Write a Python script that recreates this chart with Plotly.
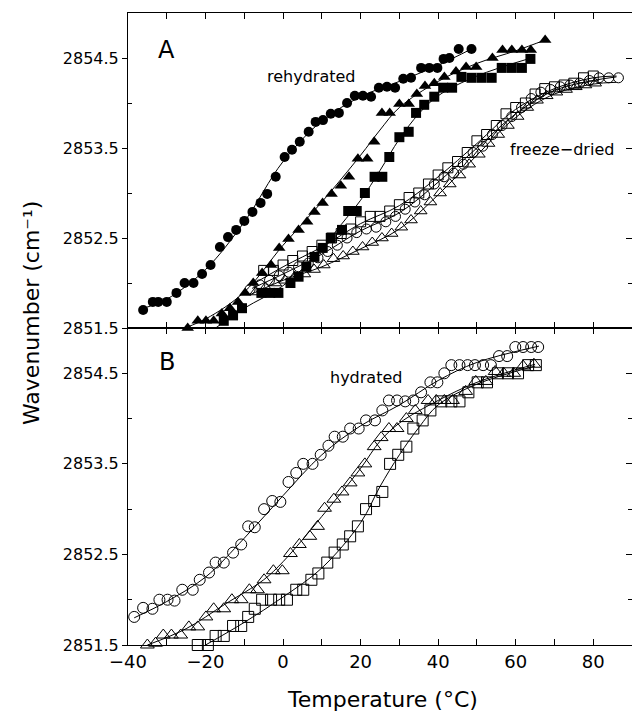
import plotly.graph_objects as go

# ---------------- Panel A (top) ----------------
# rehydrated, filled circles
a_circ_T = [-36.1, -33.6, -32.2, -30.0, -27.5, -25.4, -23.1, -20.9, -18.7, -16.3, -14.2, -12.1,
            -10.0, -7.9, -5.8, -4.1, -1.9, 0.4, 2.3, 4.3, 6.6, 8.4, 10.3, 12.3, 14.4, 16.5,
            18.5, 20.6, 22.7, 24.7, 26.8, 28.9, 31.0, 33.0, 35.6, 37.7, 39.8, 41.4, 42.9, 45.3, 48.6]
a_circ_W = [2851.70, 2851.79, 2851.79, 2851.79, 2851.89, 2852.00, 2852.00, 2852.10, 2852.20, 2852.40,
            2852.51, 2852.59, 2852.69, 2852.79, 2852.89, 2852.99, 2853.18, 2853.40, 2853.48, 2853.57,
            2853.68, 2853.79, 2853.81, 2853.88, 2853.89, 2854.00, 2854.08, 2854.08, 2854.07, 2854.17,
            2854.18, 2854.17, 2854.27, 2854.28, 2854.39, 2854.39, 2854.39, 2854.49, 2854.50, 2854.60, 2854.60]
a_circ_fitT = [-36, -30, -20, -10, 0, 10, 20, 30, 40, 48.6]
a_circ_fitW = [2851.72, 2851.82, 2852.15, 2852.68, 2853.35, 2853.80, 2854.07, 2854.24, 2854.42, 2854.60]

# filled triangles
a_tri_T = [-28.1, -24.6, -22.0, -19.9, -17.9, -15.8, -13.7, -11.6, -9.8, -7.7, -5.4, -3.1, -1.0,
           1.4, 4.0, 6.2, 8.1, 10.2, 12.5, 14.9, 17.0, 19.3, 21.7, 23.5, 25.5, 27.5, 30.0, 32.4,
           34.5, 36.6, 39.0, 41.6, 44.6, 47.2, 49.8, 54.0, 56.6, 59.0, 61.6, 63.9, 67.6]
a_tri_W = [2851.48, 2851.50, 2851.58, 2851.58, 2851.58, 2851.66, 2851.72, 2851.79, 2851.89, 2852.00,
           2852.11, 2852.20, 2852.39, 2852.49, 2852.59, 2852.68, 2852.79, 2852.89, 2852.99, 2853.08,
           2853.18, 2853.38, 2853.38, 2853.57, 2853.89, 2853.89, 2853.99, 2853.99, 2854.10, 2854.19,
           2854.22, 2854.29, 2854.35, 2854.40, 2854.40, 2854.50, 2854.59, 2854.59, 2854.59, 2854.59, 2854.70]
a_tri_fitT = [-28, -20, -10, 0, 10, 20, 25, 30, 40, 50, 60, 67.6]
a_tri_fitW = [2851.46, 2851.60, 2851.90, 2852.42, 2852.90, 2853.42, 2853.70, 2853.95, 2854.24, 2854.44, 2854.58, 2854.70]

# filled squares
a_sq_T = [-17.4, -15.3, -12.9, -10.6, -5.6, -3.3, -1.2, 1.9, 4.0, 6.0, 8.1, 10.2, 12.3, 15.2,
          16.8, 19.0, 21.1, 23.6, 25.6, 27.4, 30.0, 32.4, 34.3, 36.4, 39.0, 41.3, 43.6, 46.0,
          48.6, 51.2, 53.8, 56.4, 59.0, 61.6, 63.8]
a_sq_W = [2851.48, 2851.58, 2851.64, 2851.72, 2851.89, 2851.89, 2851.89, 2852.00, 2852.07, 2852.18,
          2852.29, 2852.39, 2852.50, 2852.59, 2852.80, 2852.80, 2853.00, 2853.18, 2853.18, 2853.40,
          2853.62, 2853.68, 2853.89, 2853.98, 2854.07, 2854.17, 2854.17, 2854.29, 2854.28, 2854.28,
          2854.28, 2854.39, 2854.39, 2854.39, 2854.49]
a_sq_fitT = [-17.4, -10, 0, 10, 15, 20, 25, 30, 35, 40, 50, 64]
a_sq_fitW = [2851.50, 2851.72, 2851.97, 2852.38, 2852.65, 2852.92, 2853.25, 2853.60, 2853.88, 2854.08, 2854.30, 2854.50]

# freeze-dried: open squares
f_sq_T = [-5, -2.5, 0, 2.5, 5, 7.5, 10, 12.5, 15, 17.5, 20, 22.5, 25, 27.5, 30, 32.5, 35, 37.5,
          40, 42.5, 45, 47.5, 50, 52.5, 55, 57.5, 60, 62.5, 65, 67.5, 70, 72.5, 75, 77.5, 80]
f_sq_W = [2852.14, 2852.14, 2852.20, 2852.25, 2852.30, 2852.35, 2852.42, 2852.50, 2852.55, 2852.60,
          2852.68, 2852.74, 2852.74, 2852.80, 2852.87, 2852.95, 2853.00, 2853.10, 2853.20, 2853.28,
          2853.35, 2853.45, 2853.58, 2853.65, 2853.75, 2853.88, 2853.95, 2854.00, 2854.10, 2854.16,
          2854.18, 2854.20, 2854.22, 2854.28, 2854.30]
# freeze-dried: open circles
f_circ_T = [-8.5, -6, -3.5, -1, 1.5, 4, 6.5, 9, 11.5, 14, 16.5, 19, 21.5, 24, 26.5, 29, 31.5, 34,
            36.5, 39, 41.5, 44, 46.5, 49, 51.5, 54, 56.5, 59, 61.5, 64, 66.5, 69, 71.5, 74, 76.5,
            79, 81.5, 84, 86.5]
f_circ_W = [2851.93, 2851.98, 2852.03, 2852.08, 2852.12, 2852.18, 2852.22, 2852.28, 2852.35, 2852.42,
            2852.50, 2852.56, 2852.60, 2852.62, 2852.68, 2852.74, 2852.82, 2852.90, 2852.98, 2853.10,
            2853.18, 2853.22, 2853.32, 2853.45, 2853.52, 2853.65, 2853.75, 2853.85, 2853.95, 2854.05,
            2854.12, 2854.15, 2854.18, 2854.20, 2854.22, 2854.25, 2854.28, 2854.28, 2854.28]
# freeze-dried: open triangles
f_tri_T = [-7, -4.5, -2, 0.5, 3, 5.5, 8, 10.5, 13, 15.5, 18, 20.5, 23, 25.5, 28, 30.5, 33, 35.5,
           38, 40.5, 43, 45.5, 48, 50.5, 53, 55.5, 58, 60.5, 63, 65.5, 68, 70.5, 73, 75.5, 78, 80.5]
f_tri_W = [2851.90, 2851.95, 2852.00, 2852.03, 2852.07, 2852.10, 2852.15, 2852.20, 2852.27, 2852.30,
           2852.35, 2852.40, 2852.45, 2852.50, 2852.55, 2852.62, 2852.70, 2852.80, 2852.90, 2853.00,
           2853.10, 2853.20, 2853.32, 2853.43, 2853.55, 2853.65, 2853.75, 2853.85, 2853.95, 2854.03,
           2854.08, 2854.12, 2854.15, 2854.18, 2854.20, 2854.22]
f_fitT = [-8, 0, 10, 20, 30, 40, 50, 60, 70, 80, 86]
f_sq_fitW = [2851.98, 2852.18, 2852.40, 2852.66, 2852.86, 2853.18, 2853.55, 2853.93, 2854.16, 2854.28, 2854.30]
f_circ_fitW = [2851.94, 2852.10, 2852.32, 2852.58, 2852.78, 2853.12, 2853.50, 2853.88, 2854.14, 2854.25, 2854.29]
f_tri_fitW = [2851.88, 2852.03, 2852.18, 2852.38, 2852.60, 2852.98, 2853.42, 2853.84, 2854.10, 2854.21, 2854.23]

# ---------------- Panel B (bottom) ----------------
b_circ_T = [-38.4, -36.1, -33.7, -31.9, -29.8, -28.0, -26.0, -23.3, -21.5, -19.1, -17.4, -15.3,
            -12.9, -10.8, -9.0, -7.3, -4.9, -2.8, -0.7, 1.4, 3.4, 5.2, 7.6, 9.7, 11.7, 13.3, 15.4,
            17.3, 19.5, 21.4, 23.7, 25.6, 27.3, 29.4, 31.5, 33.6, 35.6, 38.0, 39.8, 41.6, 43.4,
            45.5, 47.6, 49.5, 51.6, 53.6, 55.7, 57.8, 59.9, 61.9, 64.0, 65.8]
b_circ_W = [2851.81, 2851.91, 2851.90, 2852.00, 2852.00, 2851.99, 2852.11, 2852.11, 2852.22, 2852.30,
            2852.41, 2852.41, 2852.52, 2852.61, 2852.81, 2852.80, 2853.00, 2853.09, 2853.08, 2853.30,
            2853.40, 2853.50, 2853.50, 2853.60, 2853.70, 2853.80, 2853.80, 2853.89, 2853.89, 2853.98,
            2853.98, 2854.09, 2854.20, 2854.20, 2854.19, 2854.20, 2854.29, 2854.40, 2854.40, 2854.50,
            2854.59, 2854.59, 2854.59, 2854.59, 2854.59, 2854.59, 2854.69, 2854.69, 2854.79, 2854.79,
            2854.79, 2854.79]
b_circ_fitT = [-38.4, -30, -20, -10, 0, 10, 20, 30, 40, 50, 66]
b_circ_fitW = [2851.80, 2851.98, 2852.25, 2852.68, 2853.15, 2853.60, 2853.92, 2854.15, 2854.42, 2854.62, 2854.80]

b_tri_T = [-35.0, -32.9, -30.9, -28.8, -26.4, -24.3, -22.0, -19.9, -17.9, -15.3, -13.2, -10.8,
           -8.7, -6.6, -4.9, -2.5, -0.2, 1.9, 4.2, 6.9, 8.9, 10.7, 13.1, 15.2, 17.3, 19.3, 21.1,
           23.5, 25.3, 27.3, 29.4, 31.8, 34.1, 37.4, 39.5, 41.6, 43.7, 47.1, 49.7, 52.3, 54.7,
           56.9, 59.5, 61.9, 64.7]
b_tri_W = [2851.50, 2851.52, 2851.61, 2851.61, 2851.61, 2851.70, 2851.70, 2851.81, 2851.90, 2851.90,
           2852.00, 2852.00, 2852.11, 2852.11, 2852.22, 2852.32, 2852.32, 2852.51, 2852.61, 2852.70,
           2852.81, 2853.01, 2853.11, 2853.19, 2853.29, 2853.40, 2853.50, 2853.69, 2853.79, 2853.89,
           2853.89, 2854.00, 2854.09, 2854.20, 2854.20, 2854.20, 2854.20, 2854.30, 2854.41, 2854.41,
           2854.52, 2854.50, 2854.50, 2854.58, 2854.60]
b_tri_fitT = [-35, -25, -15, -5, 0, 10, 20, 25, 30, 40, 50, 65]
b_tri_fitW = [2851.50, 2851.68, 2851.95, 2852.22, 2852.42, 2852.92, 2853.45, 2853.75, 2853.95, 2854.20, 2854.40, 2854.60]

b_sq_T = [-22.0, -19.4, -17.4, -15.3, -12.9, -10.8, -9.0, -7.3, -5.4, -3.1, -1.0, 1.0, 3.4, 5.2,
          7.3, 9.1, 11.4, 13.3, 15.4, 17.3, 19.3, 21.4, 23.5, 25.6, 27.6, 29.7, 31.8, 33.6, 36.0,
          38.0, 40.8, 43.4, 45.5, 47.8, 50.2, 52.6, 55.4, 58.0, 60.6, 63.2, 65.2]
b_sq_W = [2851.50, 2851.50, 2851.60, 2851.60, 2851.71, 2851.71, 2851.81, 2851.90, 2852.00, 2852.00,
          2852.00, 2852.00, 2852.11, 2852.11, 2852.22, 2852.29, 2852.41, 2852.52, 2852.61, 2852.70,
          2852.81, 2853.00, 2853.09, 2853.19, 2853.50, 2853.60, 2853.69, 2853.89, 2853.98, 2854.09,
          2854.19, 2854.19, 2854.19, 2854.29, 2854.40, 2854.40, 2854.50, 2854.50, 2854.50, 2854.59, 2854.59]
b_sq_fitT = [-20, -10, 0, 10, 20, 25, 30, 35, 40, 50, 65]
b_sq_fitW = [2851.50, 2851.75, 2852.03, 2852.35, 2852.85, 2853.25, 2853.60, 2853.90, 2854.15, 2854.38, 2854.58]

# axis ticks
x_tickvals = [-40, -20, 0, 20, 40, 60, 80]
x_ticktext = ["\u221240", "\u221220", "0", "20", "40", "60", "80"]
x_minorvals = [-30, -10, 10, 30, 50, 70, 90]
y_tickvals = [2851.5, 2852.5, 2853.5, 2854.5]
y_ticktext = ["2851.5", "2852.5", "2853.5", "2854.5"]
y_minorvals = [2852.0, 2853.0, 2854.0]

FONT = "DejaVu Sans"
fig = go.Figure()


def markers(T, W, sym, size, xa, ya, open_=False, opacity=1.0):
    m = dict(symbol=sym, size=size, color="black", opacity=opacity)
    if open_:
        m["line"] = dict(color="black", width=1)
    fig.add_trace(go.Scatter(x=T, y=W, mode="markers", marker=m, xaxis=xa, yaxis=ya,
                             cliponaxis=False, showlegend=False,
                             hoverinfo="x+y" if opacity > 0 else "skip"))


def fit(T, W, xa, ya):
    fig.add_trace(go.Scatter(x=T, y=W, mode="lines", line=dict(color="black", width=1,
                             shape="spline", smoothing=1.0), xaxis=xa, yaxis=ya,
                             showlegend=False, hoverinfo="skip"))


# top panel (x2, y2)
fit(a_circ_fitT, a_circ_fitW, "x2", "y2")
fit(a_tri_fitT, a_tri_fitW, "x2", "y2")
fit(a_sq_fitT, a_sq_fitW, "x2", "y2")
fit(f_fitT, f_sq_fitW, "x2", "y2")
fit(f_fitT, f_circ_fitW, "x2", "y2")
fit(f_fitT, f_tri_fitW, "x2", "y2")
markers(a_circ_T, a_circ_W, "circle", 10, "x2", "y2")
markers(a_tri_T, a_tri_W, "triangle-up", 11, "x2", "y2")
markers(a_sq_T, a_sq_W, "square", 10, "x2", "y2")
markers(f_sq_T, f_sq_W, "square-open", 10, "x2", "y2", True)
markers(f_circ_T, f_circ_W, "circle-open", 10, "x2", "y2", True)
markers(f_tri_T, f_tri_W, "triangle-up-open", 11, "x2", "y2", True)

# bottom panel (x, y)
fit(b_circ_fitT, b_circ_fitW, "x", "y")
fit(b_tri_fitT, b_tri_fitW, "x", "y")
fit(b_sq_fitT, b_sq_fitW, "x", "y")
markers(b_circ_T, b_circ_W, "circle-open", 11, "x", "y", True)
markers(b_tri_T, b_tri_W, "triangle-up-open", 12, "x", "y", True)
markers(b_sq_T, b_sq_W, "square-open", 11, "x", "y", True)

# transparent copies attach the right-hand (tick-only) axes
markers(b_circ_T, b_circ_W, "circle", 1, "x", "y3", opacity=0)
markers(a_circ_T, a_circ_W, "circle", 1, "x2", "y4", opacity=0)

H, Wd = 712, 633
ml, mr, mt, mb = 128, 1, 13, 67
plot_h = H - mt - mb
plot_w = Wd - ml - mr
split = 317 / plot_h

xcommon = dict(range=[-40, 90], showline=True, linecolor="black", linewidth=1,
               mirror="ticks", ticks="inside", ticklen=6, tickcolor="black",
               tickvals=x_tickvals, ticktext=x_ticktext, showgrid=False, zeroline=False,
               minor=dict(tickvals=x_minorvals, ticks="inside", ticklen=6, tickcolor="black",
                          showgrid=False))
ycommon = dict(range=[2851.5, 2855.0], showline=True, linecolor="black", linewidth=1,
               ticks="outside", ticklen=5, tickcolor="black", tickvals=y_tickvals,
               ticktext=y_ticktext, showgrid=False, zeroline=False,
               minor=dict(tickvals=y_minorvals, ticks="inside", ticklen=4,
                          tickcolor="black", showgrid=False),
               tickfont=dict(family=FONT, size=16, color="black"))
yright = dict(range=[2851.5, 2855.0], side="right", showline=False, ticks="inside",
              ticklen=6, tickcolor="black", tickvals=y_tickvals, showticklabels=False,
              showgrid=False, zeroline=False,
              minor=dict(tickvals=y_minorvals, ticks="inside", ticklen=4, tickcolor="black",
                         showgrid=False))

fig.update_layout(
    width=Wd, height=H, margin=dict(l=ml, r=mr, t=mt, b=mb),
    paper_bgcolor="white", plot_bgcolor="white",
    font=dict(family=FONT, color="black"),
    xaxis=dict(**xcommon, anchor="y", tickfont=dict(family=FONT, size=18, color="black")),
    xaxis2=dict(**xcommon, anchor="y2", matches="x", showticklabels=False),
    yaxis=dict(**ycommon, domain=[0, split], anchor="x"),
    yaxis2=dict(**ycommon, domain=[split, 1], anchor="x2"),
    yaxis3=dict(**yright, overlaying="y", anchor="x"),
    yaxis4=dict(**yright, overlaying="y2", anchor="x2"),
)

ann = []
ann.append(dict(text="A", x=-30.0, y=2854.59, xref="x2", yref="y2", showarrow=False,
                font=dict(family=FONT, size=24, color="black")))
ann.append(dict(text="B", x=-30.0, y=2854.62, xref="x", yref="y", showarrow=False,
                font=dict(family=FONT, size=24, color="black")))
ann.append(dict(text="rehydrated", x=7.4, y=2854.3, xref="x2", yref="y2", showarrow=False,
                font=dict(family=FONT, size=16, color="black")))
ann.append(dict(text="freeze\u2212dried", x=72.0, y=2853.48, xref="x2", yref="y2", showarrow=False,
                font=dict(family=FONT, size=16, color="black")))
ann.append(dict(text="hydrated", x=21.3, y=2854.45, xref="x", yref="y", showarrow=False,
                font=dict(family=FONT, size=16, color="black")))
ann.append(dict(text="Wavenumber (cm\u207b\u00b9)", x=(31 - ml) / plot_w,
                y=(H - mb - 313) / plot_h, xref="paper", yref="paper", showarrow=False,
                xanchor="center", yanchor="middle",
                textangle=-90, font=dict(family=FONT, size=22, color="black")))
ann.append(dict(text="Temperature (\u00b0C)", x=(382 - ml) / plot_w, y=(H - mb - 699) / plot_h,
                xref="paper", yref="paper", showarrow=False, xanchor="center", yanchor="middle",
                font=dict(family=FONT, size=22, color="black")))
fig.update_layout(annotations=ann)

fig.write_html("out.html")
